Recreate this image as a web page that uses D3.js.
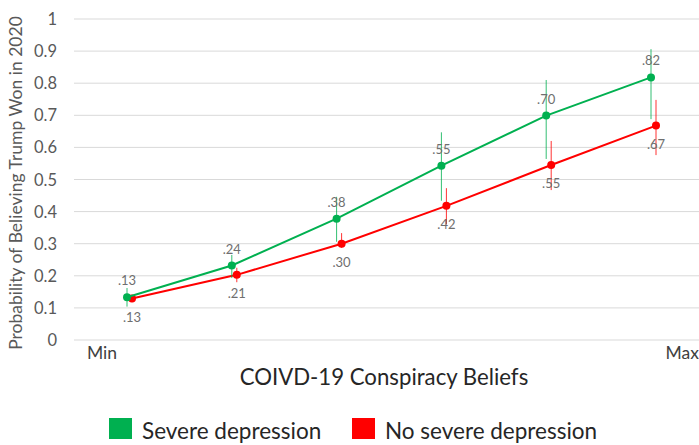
<!DOCTYPE html>
<html><head><meta charset="utf-8">
<script src="https://cdn.jsdelivr.net/npm/d3@7"></script>
<style>body{margin:0;background:#fff}svg{display:block}</style>
</head><body>
<script>
const categories = [0, 1, 2, 3, 4, 5];
const severeValues = [0.133, 0.232, 0.378, 0.543, 0.699, 0.818];
const severeLow    = [0.104, 0.193, 0.306, 0.434, 0.564, 0.688];
const severeHigh   = [0.162, 0.265, 0.446, 0.647, 0.810, 0.906];
const severeLabels = [".13", ".24", ".38", ".55", ".70", ".82"];
const noSevereValues = [0.129, 0.203, 0.300, 0.418, 0.545, 0.668];
const noSevereLow    = [0.118, 0.180, 0.287, 0.360, 0.467, 0.576];
const noSevereHigh   = [0.140, 0.225, 0.333, 0.473, 0.620, 0.748];
const noSevereLabels = [".13", ".21", ".30", ".42", ".55", ".67"];
const yTicks = [0, 0.1, 0.2, 0.3, 0.4, 0.5, 0.6, 0.7, 0.8, 0.9, 1];
const xEndLabels = ["Min", "Max"];
const seriesNames = ["Severe depression", "No severe depression"];
const colors = ["#00B050", "#FF0000"];

const W = 699, H = 445;
const svg = d3.select("body").append("svg").attr("width", W).attr("height", H)
  .style("font-family", "Lato, sans-serif");

const x = d3.scaleLinear().domain([0, 5]).range([127, 651]);
const y = d3.scaleLinear().domain([0, 1]).range([340, 19]);
const redOffset = 5;

// gridlines
svg.append("g").selectAll("line").data(yTicks).join("line")
  .attr("x1", 74).attr("x2", 699)
  .attr("y1", d => y(d)).attr("y2", d => y(d))
  .attr("stroke", "#d9d9d9").attr("stroke-width", 1);

// y tick labels
svg.append("g").selectAll("text").data(yTicks).join("text")
  .attr("x", 57).attr("y", d => y(d) + 6)
  .attr("text-anchor", "end").attr("fill", "#595959")
  .style("font-size", "16.5px").text(d => d === 0 || d === 1 ? d : d.toFixed(1));

// y axis title
svg.append("text").attr("transform", "translate(22,183) rotate(-90)")
  .attr("text-anchor", "middle").attr("fill", "#595959").style("font-size", "17.5px")
  .text("Probability of Believing Trump Won in 2020");

// x labels
svg.append("text").attr("x", 87).attr("y", 359).attr("fill", "#404040")
  .style("font-size", "17.5px").text(xEndLabels[0]);
svg.append("text").attr("x", 699).attr("y", 359).attr("text-anchor", "end").attr("fill", "#404040")
  .style("font-size", "17.5px").text(xEndLabels[1]);
svg.append("text").attr("x", 384).attr("y", 385).attr("text-anchor", "middle").attr("fill", "#262626")
  .style("font-size", "22.2px").text("COIVD-19 Conspiracy Beliefs");

function drawSeries(vals, lo, hi, labels, color, off, labelDy) {
  const g = svg.append("g");
  const line = d3.line().x((d, i) => x(categories[i]) + off).y(d => y(d));
  g.selectAll("line.err").data(vals).join("line").attr("class", "err")
    .attr("x1", (d, i) => x(categories[i]) + off).attr("x2", (d, i) => x(categories[i]) + off)
    .attr("y1", (d, i) => y(lo[i])).attr("y2", (d, i) => y(hi[i]))
    .attr("stroke", color).attr("stroke-width", 1).attr("opacity", 0.8);
  g.append("path").datum(vals).attr("d", line).attr("fill", "none")
    .attr("stroke", color).attr("stroke-width", 2);
  g.selectAll("circle").data(vals).join("circle")
    .attr("cx", (d, i) => x(categories[i]) + off).attr("cy", d => y(d)).attr("r", 4)
    .attr("fill", color);
  g.selectAll("text").data(vals).join("text")
    .attr("x", (d, i) => x(categories[i]) + off).attr("y", d => y(d) + labelDy)
    .attr("text-anchor", "middle").attr("fill", "#6f6f6f").style("font-size", "13px")
    .text((d, i) => labels[i]);
}
drawSeries(noSevereValues, noSevereLow, noSevereHigh, noSevereLabels, colors[1], redOffset, 23);
drawSeries(severeValues, severeLow, severeHigh, severeLabels, colors[0], 0, -12);

// legend
const legendX = [109, 352];
seriesNames.forEach((n, i) => {
  svg.append("rect").attr("x", legendX[i]).attr("y", 418).attr("width", 23).attr("height", 21).attr("fill", colors[i]);
  svg.append("text").attr("x", legendX[i] + 33).attr("y", 439).attr("fill", "#262626")
    .style("font-size", "22.5px").text(n);
});
</script>
</body></html>
